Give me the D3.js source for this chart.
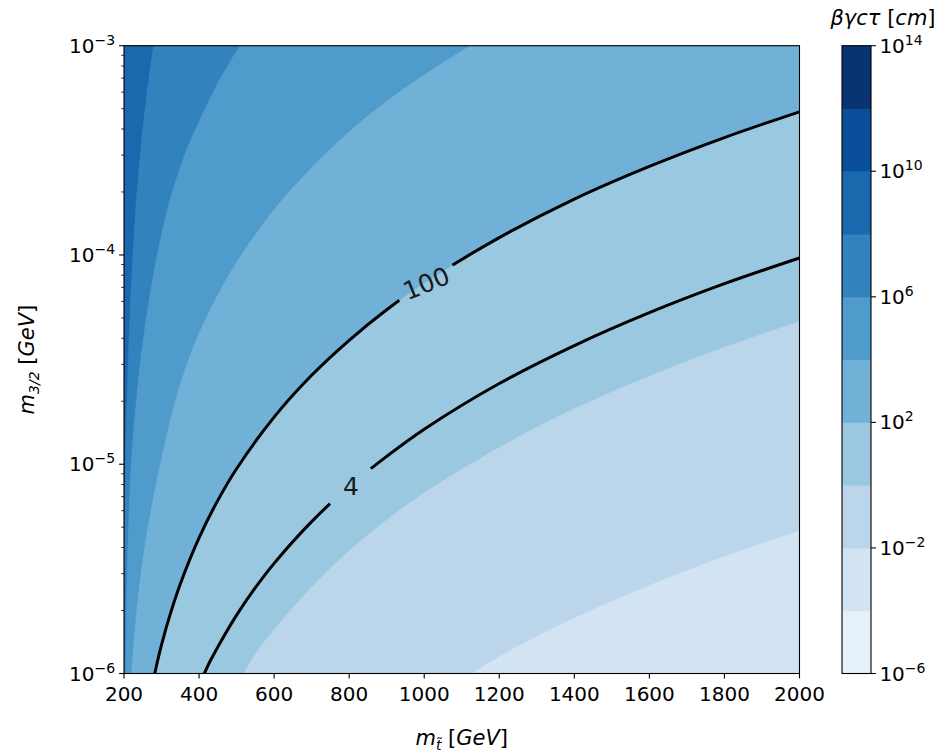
<!DOCTYPE html>
<html><head><meta charset="utf-8">
<script src="https://cdn.jsdelivr.net/npm/d3@7"></script>
<style>
body{margin:0;background:#fff}
svg{display:block}
text{font-family:"DejaVu Sans",sans-serif;fill:#000}
</style>
</head><body>
<svg id="c" width="948" height="755"></svg>
<script>
// ---------------- data ----------------
const xTicks = [200,400,600,800,1000,1200,1400,1600,1800,2000];
const yTicks = [1e-6,1e-5,1e-4,1e-3];
const yTickExp = ["\u22126","\u22125","\u22124","\u22123"];
const levels = [1e-6,1e-4,1e-2,1e0,1e2,1e4,1e6,1e8,1e10,1e12,1e14];
const cbTicks = [1e-6,1e-2,1e2,1e6,1e10,1e14];
const cbTickExp = ["\u22126","\u22122","2","6","10","14"];
const baseBandLevel = 1e-4;   // band filling the lower-right corner

// band boundaries: [m_stop GeV, m_3/2 GeV]
const bound_m2 = [[1125,1e-6],[1200,1.21e-6],[1300,1.51e-6],[1400,1.85e-6],[1600,2.65e-6],[1800,3.64e-6],[2000,4.83e-6]];
const bound_0 = [[518,1e-6],[550,1.25e-6],[600,1.63e-6],[700,2.60e-6],[800,3.88e-6],[900,5.45e-6],[1000,7.33e-6],[1200,1.21e-5],[1400,1.85e-5],[1600,2.65e-5],[1800,3.64e-5],[2000,4.83e-5]];
const bound_2 = [[282,1e-6],[290,1.16e-6],[300,1.37e-6],[320,1.84e-6],[350,2.68e-6],[400,4.45e-6],[450,6.72e-6],[500,9.52e-6],[600,1.68e-5],[700,2.66e-5],[800,3.91e-5],[900,5.47e-5],[1000,7.34e-5],[1200,1.21e-4],[1400,1.85e-4],[1600,2.65e-4],[1800,3.64e-4],[2000,4.83e-4]];
const bound_4 = [[219,1e-6],[225,1.42e-6],[232,1.95e-6],[245,3.13e-6],[269,5.85e-6],[304,1.17e-5],[340,2.15e-5],[380,3.5e-5],[430,5.55e-5],[500,9.3e-5],[600,1.66e-4],[700,2.63e-4],[800,3.9e-4],[900,5.45e-4],[1000,7.3e-4],[1120,1e-3]];
const bound_6 = [[203,1e-6],[205,2.0e-6],[208,3.6e-6],[212,6.0e-6],[219,1.1e-5],[230,1.9e-5],[245,3.4e-5],[265,6.0e-5],[285,9.6e-5],[320,1.8e-4],[360,3.0e-4],[400,4.4e-4],[450,6.7e-4],[507,1e-3]];
const bound_8 = [[200,5.4e-6],[202,9.4e-6],[205,1.65e-5],[210,3.2e-5],[216,6.1e-5],[224,1.15e-4],[233,2.0e-4],[245,3.5e-4],[260,6.0e-4],[277,1e-3]];

// contour lines
const line100 = bound_2;
const line4 = [[414,1e-6],[430,1.15e-6],[450,1.34e-6],[500,1.90e-6],[550,2.57e-6],[600,3.36e-6],[700,5.32e-6],[800,7.83e-6],[900,1.09e-5],[1000,1.47e-5],[1200,2.43e-5],[1400,3.69e-5],[1600,5.30e-5],[1800,7.29e-5],[2000,9.67e-5]];
const contourLabels = [
  {text:"100", x:1006, y:7.3e-5},
  {text:"4",   x:805,  y:7.8e-6}
];

// ---------------- styles / layout ----------------
const labelStyle = {"100":{rot:-22, gap:32}, "4":{rot:0, gap:27}};
const M = {left:124, right:799.5, top:45.7, bottom:673.5};
const CB = {x0:842, x1:871};
const blues = d3.scaleLinear()
  .domain(d3.range(9).map(i=>i/8))
  .range(["#f7fbff","#deebf7","#c6dbef","#9ecae1","#6baed6","#4292c6","#2171b5","#08519c","#08306b"])
  .interpolate(d3.interpolateRgb);
const norm = d3.scaleLog().domain([levels[0],levels[levels.length-1]]).range([0,1]);
const bandColor = i => blues(norm((levels[i]+levels[i+1])/2));
const bandIndex = lv => Math.round((Math.log10(lv)-Math.log10(levels[0]))/2);

const svg = d3.select("#c");
const x = d3.scaleLinear().domain([200,2000]).range([M.left,M.right]);
const y = d3.scaleLog().domain([1e-6,1e-3]).range([M.bottom,M.top]);
const cb = d3.scaleLog().domain([levels[0],levels[levels.length-1]]).range([M.bottom,M.top]);

const defs = svg.append("defs");
defs.append("clipPath").attr("id","plotclip").append("rect")
  .attr("x",M.left).attr("y",M.top).attr("width",M.right-M.left).attr("height",M.bottom-M.top);

// ---------- filled bands ----------
const g = svg.append("g").attr("clip-path","url(#plotclip)");
g.append("rect").attr("x",M.left).attr("y",M.top).attr("width",M.right-M.left).attr("height",M.bottom-M.top)
  .attr("fill",bandColor(bandIndex(baseBandLevel)));

const lineGen = d3.line().x(d=>x(d[0])).y(d=>y(d[1])).curve(d3.curveCatmullRom.alpha(0.5));
function regionPath(pts){
  const first=pts[0], last=pts[pts.length-1];
  const xd=x.domain(), yd=y.domain();
  const corners=[[last[0],yd[1]],[xd[0],yd[1]],[xd[0],first[1]]];
  return lineGen(pts)+corners.map(c=>"L"+x(c[0])+","+y(c[1])).join("")+"Z";
}
const fills = [
  {level:1e-2, pts:bound_m2},
  {level:1e0,  pts:bound_0},
  {level:1e2,  pts:bound_2},
  {level:1e4,  pts:bound_4},
  {level:1e6,  pts:bound_6},
  {level:1e8,  pts:bound_8}
];
g.selectAll("path.band").data(fills).enter().append("path").attr("class","band")
  .attr("d",d=>regionPath(d.pts))
  .attr("fill",d=>bandColor(bandIndex(d.level)))
  .attr("stroke",d=>bandColor(bandIndex(d.level))).attr("stroke-width",0.6);

// ---------- contour lines with label gaps ----------
const mask = defs.append("mask").attr("id","lblmask").attr("maskUnits","userSpaceOnUse")
  .attr("x",0).attr("y",0).attr("width",948).attr("height",755);
mask.append("rect").attr("x",0).attr("y",0).attr("width",948).attr("height",755).attr("fill","#fff");
contourLabels.forEach(l=>{
  mask.append("circle").attr("cx",x(l.x)).attr("cy",y(l.y)).attr("r",labelStyle[l.text].gap).attr("fill","#000");
});
const lg = g.append("g").attr("mask","url(#lblmask)");
[line100,line4].forEach(pts=>{
  lg.append("path").attr("d",lineGen(pts)).attr("fill","none")
    .attr("stroke","#000").attr("stroke-width",3).attr("stroke-linecap","butt");
});
contourLabels.forEach(l=>{
  svg.append("text").attr("x",x(l.x)).attr("y",y(l.y))
    .attr("text-anchor","middle").attr("dominant-baseline","central")
    .attr("font-size",25).style("fill","#1a1a1a")
    .attr("transform",`rotate(${labelStyle[l.text].rot},${x(l.x)},${y(l.y)})`)
    .text(l.text);
});

// ---------- frame ----------
svg.append("rect").attr("x",M.left).attr("y",M.top).attr("width",M.right-M.left).attr("height",M.bottom-M.top)
  .attr("fill","none").attr("stroke","#000").attr("stroke-width",1.1);

// ---------- x axis ----------
const TL=4.9, TLm=2.8, fs=20, fsSup=14;
xTicks.forEach(t=>{
  svg.append("line").attr("x1",x(t)).attr("x2",x(t)).attr("y1",M.bottom).attr("y2",M.bottom+TL)
    .attr("stroke","#000").attr("stroke-width",1.1);
  svg.append("text").attr("x",x(t)).attr("y",M.bottom+TL+3.5+19)
    .attr("text-anchor","middle").attr("font-size",fs).text(t);
});
// ---------- y axis (log) ----------
y.ticks().forEach(t=>{
  const major = yTicks.some(v=>Math.abs(v-t)/v<1e-6);
  svg.append("line").attr("x1",M.left).attr("x2",M.left-(major?TL:TLm)).attr("y1",y(t)).attr("y2",y(t))
    .attr("stroke","#000").attr("stroke-width",major?1.1:0.8);
});
function powLabel(sel, exp){
  sel.append("tspan").text("10");
  sel.append("tspan").attr("font-size",fsSup).attr("dy",-8).text(exp);
}
yTicks.forEach((t,i)=>{
  const tx = svg.append("text").attr("x",M.left-TL-4).attr("y",y(t)+7)
    .attr("text-anchor","end").attr("font-size",fs);
  powLabel(tx, yTickExp[i]);
});

// ---------- axis labels ----------
const xl = svg.append("text").attr("x",(M.left+M.right)/2).attr("y",745)
  .attr("text-anchor","middle").attr("font-size",21).attr("font-style","italic");
xl.append("tspan").text("m");
xl.append("tspan").attr("font-size",14).attr("dy",5).text("t\u0303");
xl.append("tspan").attr("dy",-5).text(" ");
xl.append("tspan").attr("font-style","normal").text("[");
xl.append("tspan").text("GeV");
xl.append("tspan").attr("font-style","normal").text("]");

const yc=(M.top+M.bottom)/2;
const yl = svg.append("text").attr("transform",`translate(34,${yc}) rotate(-90)`)
  .attr("text-anchor","middle").attr("font-size",21).attr("font-style","italic");
yl.append("tspan").text("m");
yl.append("tspan").attr("font-size",14).attr("dy",5).text("3/2");
yl.append("tspan").attr("dy",-5).text(" ");
yl.append("tspan").attr("font-style","normal").text("[");
yl.append("tspan").text("GeV");
yl.append("tspan").attr("font-style","normal").text("]");

// ---------- colorbar ----------
const cbg = svg.append("g");
cbg.selectAll("rect").data(d3.range(levels.length-1)).enter().append("rect")
  .attr("x",CB.x0).attr("width",CB.x1-CB.x0)
  .attr("y",i=>cb(levels[i+1])).attr("height",i=>cb(levels[i])-cb(levels[i+1])+0.5)
  .attr("fill",i=>bandColor(i));
svg.append("rect").attr("x",CB.x0).attr("y",M.top).attr("width",CB.x1-CB.x0).attr("height",M.bottom-M.top)
  .attr("fill","none").attr("stroke","#000").attr("stroke-width",1.1);
cbTicks.forEach((t,i)=>{
  svg.append("line").attr("x1",CB.x1).attr("x2",CB.x1+TL).attr("y1",cb(t)).attr("y2",cb(t))
    .attr("stroke","#000").attr("stroke-width",1.1);
  const tx = svg.append("text").attr("x",CB.x1+TL+3.5).attr("y",cb(t)+7).attr("font-size",fs);
  powLabel(tx, cbTickExp[i]);
});
const ct = svg.append("text").attr("x",883).attr("y",25).attr("text-anchor","middle")
  .attr("font-size",21).attr("font-style","italic");
ct.append("tspan").text("\u03b2\u03b3c\u03c4 ");
ct.append("tspan").attr("font-style","normal").text("[");
ct.append("tspan").text("cm");
ct.append("tspan").attr("font-style","normal").text("]");
</script>
</body></html>
